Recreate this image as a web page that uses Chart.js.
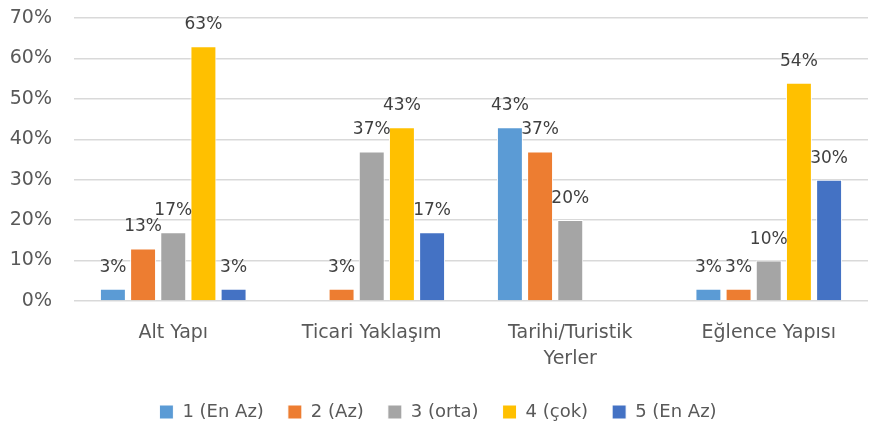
<!DOCTYPE html>
<html>
<head>
<meta charset="utf-8">
<script src="https://cdn.jsdelivr.net/npm/chart.js@4.4.0/dist/chart.umd.min.js"></script>
<style>
  html, body { margin: 0; padding: 0; background: #fff; }
  #wrap { width: 876px; height: 448px; }
</style>
</head>
<body>
<div id="wrap"><canvas id="barChart"></canvas></div>
<script>
const categories = ['Alt Yapı', 'Ticari Yaklaşım', ['Tarihi/Turistik', 'Yerler'], 'Eğlence Yapısı'];
const seriesNames = ['1 (En Az)', '2 (Az)', '3 (orta)', '4 (çok)', '5 (En Az)'];
const s1 = [3, null, 43, 3];
const s2 = [13, 3, 37, 3];
const s3 = [17, 37, 20, 10];
const s4 = [63, 43, null, 54];
const s5 = [3, 17, null, 30];
const yTicks = [0, 10, 20, 30, 40, 50, 60, 70];

const colors = ['#5B9BD5', '#ED7D31', '#A5A5A5', '#FFC000', '#4472C4'];
const FONT = 'DejaVu Sans, sans-serif';

// value labels above each bar
const barLabels = {
  id: 'barLabels',
  afterDatasetsDraw(chart) {
    const ctx = chart.ctx;
    ctx.save();
    ctx.font = '17px ' + FONT;
    ctx.fillStyle = '#404040';
    ctx.textAlign = 'center';
    ctx.textBaseline = 'alphabetic';
    chart.data.datasets.forEach((ds, i) => {
      chart.getDatasetMeta(i).data.forEach((bar, j) => {
        const v = ds.data[j];
        if (v === null) return;
        ctx.fillText(v + '%', bar.x, bar.y - 17);
      });
    });
    ctx.restore();
  }
};

const ctx = document.getElementById('barChart').getContext('2d');
new Chart(ctx, {
  type: 'bar',
  data: {
    labels: categories,
    datasets: [s1, s2, s3, s4, s5].map((d, i) => ({
      label: seriesNames[i],
      data: d,
      backgroundColor: colors[i],
      borderColor: '#ffffff',
      borderWidth: 1,
      barPercentage: 0.86,
      categoryPercentage: 0.76
    }))
  },
  options: {
    responsive: true,
    maintainAspectRatio: false,
    animation: false,
    layout: { padding: { left: 8, right: 8, top: 0, bottom: 17 } },
    plugins: {
      tooltip: { enabled: false },
      legend: {
        position: 'bottom',
        labels: {
          boxWidth: 14,
          boxHeight: 14,
          padding: 24,
          color: '#595959',
          font: { family: FONT, size: 18 }
        }
      }
    },
    scales: {
      x: {
        grid: { display: false },
        border: { display: false },
        ticks: {
          color: '#595959',
          font: { family: FONT, size: 19, lineHeight: 1.37 },
          padding: 11,
          maxRotation: 0
        },
        afterFit(scale) {
          scale.height -= 4;
          scale.paddingLeft = 0;
          scale.paddingRight = 0;
        }
      },
      y: {
        min: 0,
        max: 70,
        afterBuildTicks(scale) {
          scale.ticks = yTicks.map(v => ({ value: v }));
        },
        grid: { color: '#D9D9D9', lineWidth: 1.5, drawTicks: false },
        border: { display: false },
        ticks: {
          color: '#595959',
          font: { family: FONT, size: 19 },
          padding: 22,
          callback: v => v + '%'
        },
        afterFit(scale) {
          scale.width = 66;
          scale.paddingTop = 18;
          scale.paddingBottom = 0;
        }
      }
    }
  },
  plugins: [barLabels]
});
</script>
</body>
</html>
